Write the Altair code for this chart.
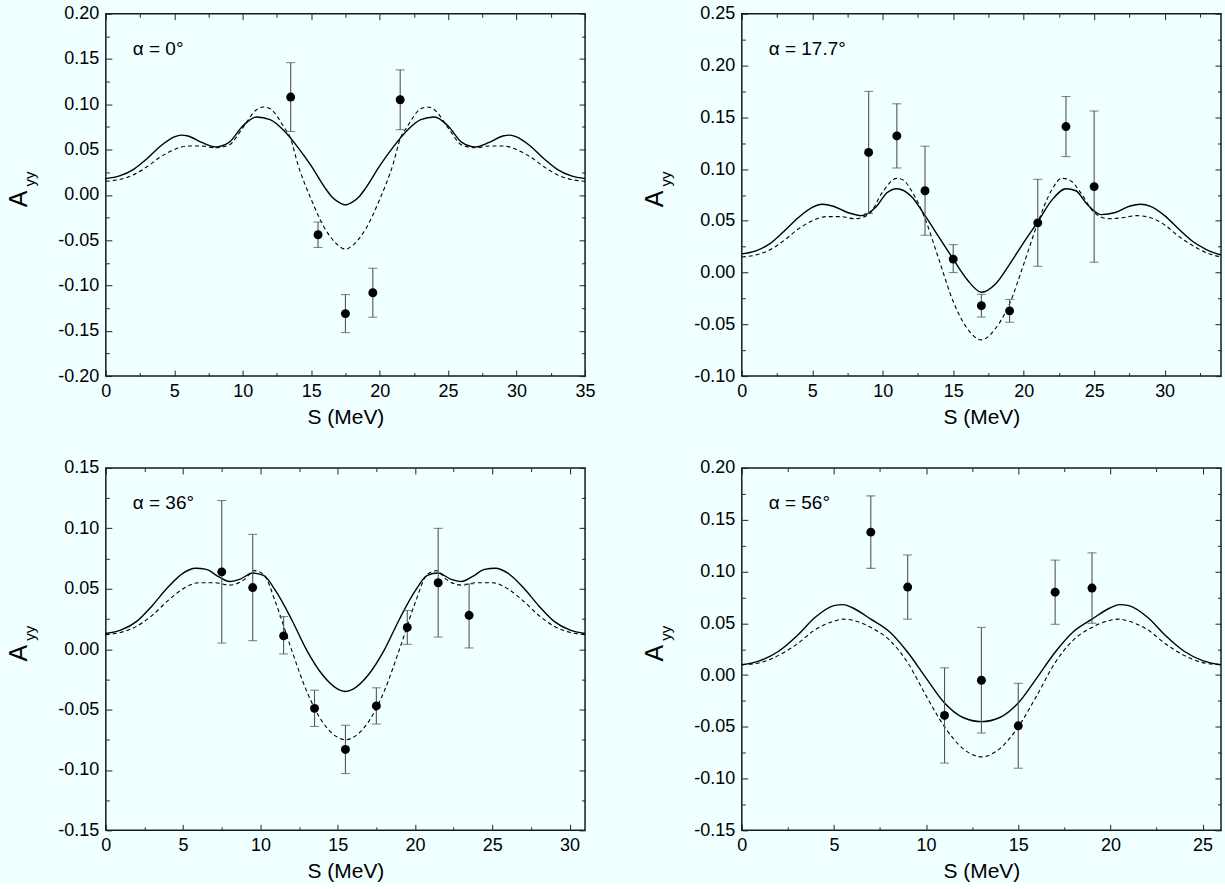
import altair as alt
import pandas as pd

FONT = "Liberation Sans"
BG = "#f0ffff"
W, H = 480, 363

# ---------------- Panel 1 : alpha = 0 deg ----------------
p1_label = "α = 0°"
p1_xdom = [0, 35]
p1_ydom = [-0.20, 0.20]
p1_xmaj = [0, 5, 10, 15, 20, 25, 30, 35]
p1_xmin = [2.5, 7.5, 12.5, 17.5, 22.5, 27.5, 32.5]
p1_ymaj = [-0.20, -0.15, -0.10, -0.05, 0.00, 0.05, 0.10, 0.15, 0.20]
p1_ymin = [-0.175, -0.125, -0.075, -0.025, 0.025, 0.075, 0.125, 0.175]
p1_sol_s = [0, 1, 2, 3, 4, 5, 5.5, 6, 7, 8, 9, 10, 11, 12, 13, 14, 15, 16, 16.5, 17, 17.5,
            18, 18.5, 19, 20, 21, 22, 23, 24, 25, 26, 27, 28, 29, 29.5, 30, 31, 32, 33, 34, 35]
p1_sol_v = [0.018, 0.021, 0.028, 0.040, 0.054, 0.064, 0.066, 0.065, 0.058, 0.053, 0.058, 0.076, 0.086,
            0.083, 0.071, 0.053, 0.032, 0.008, -0.002, -0.008, -0.011, -0.008, -0.002, 0.008, 0.032,
            0.053, 0.071, 0.083, 0.086, 0.076, 0.058, 0.053, 0.058, 0.065, 0.066, 0.064, 0.054, 0.040,
            0.028, 0.021, 0.018]
p1_das_s = [0, 1, 2, 3, 4, 5, 6, 7, 8, 9, 10, 11, 11.5, 12, 13, 13.5, 14, 15, 16, 17, 17.5, 18,
            19, 20, 21, 21.5, 22, 23, 23.5, 24, 25, 26, 27, 28, 29, 30, 31, 32, 33, 34, 35]
p1_das_v = [0.015, 0.017, 0.022, 0.031, 0.042, 0.050, 0.054, 0.054, 0.052, 0.055, 0.074, 0.094, 0.097,
            0.095, 0.075, 0.062, 0.035, -0.005, -0.037, -0.056, -0.060, -0.056, -0.037, -0.005, 0.035,
            0.062, 0.075, 0.095, 0.097, 0.094, 0.074, 0.055, 0.052, 0.054, 0.054, 0.050, 0.042, 0.031,
            0.022, 0.017, 0.015]
p1_pt_s = [13.5, 15.5, 17.5, 19.5, 21.5]
p1_pt_v = [0.108, -0.044, -0.131, -0.108, 0.105]
p1_pt_hi = [0.146, -0.030, -0.110, -0.081, 0.138]
p1_pt_lo = [0.070, -0.058, -0.152, -0.135, 0.072]

# ---------------- Panel 2 : alpha = 17.7 deg ----------------
p2_label = "α = 17.7°"
p2_xdom = [0, 34]
p2_ydom = [-0.10, 0.25]
p2_xmaj = [0, 5, 10, 15, 20, 25, 30]
p2_xmin = [2.5, 7.5, 12.5, 17.5, 22.5, 27.5, 32.5]
p2_ymaj = [-0.10, -0.05, 0.00, 0.05, 0.10, 0.15, 0.20, 0.25]
p2_ymin = [-0.075, -0.025, 0.025, 0.075, 0.125, 0.175, 0.225]
p2_sol_s = [0, 1, 2, 3, 4, 5, 5.7, 6.5, 7.5, 8.5, 9.5, 10.3, 11, 12, 13, 14, 15, 16, 17, 18, 19,
            20, 21, 22, 23, 23.7, 24.5, 25.5, 26.5, 27.5, 28.3, 29, 30, 31, 32, 33, 34]
p2_sol_v = [0.018, 0.021, 0.028, 0.040, 0.053, 0.063, 0.066, 0.064, 0.058, 0.055, 0.063, 0.077, 0.081,
            0.074, 0.055, 0.034, 0.013, -0.007, -0.019, -0.011, 0.008, 0.029, 0.049, 0.070, 0.081,
            0.079, 0.066, 0.056, 0.058, 0.064, 0.066, 0.064, 0.055, 0.042, 0.030, 0.022, 0.017]
p2_das_s = [0, 1, 2, 3, 4, 5, 6, 7, 8, 9, 10, 11, 11.5, 12, 13, 14, 15, 16, 17, 18, 19, 20, 21,
            22, 22.7, 23.3, 24, 25, 26, 27, 28, 29, 30, 31, 32, 33, 34]
p2_das_v = [0.015, 0.017, 0.022, 0.031, 0.042, 0.050, 0.054, 0.054, 0.052, 0.056, 0.078, 0.091, 0.089,
            0.080, 0.052, 0.012, -0.028, -0.054, -0.065, -0.054, -0.030, 0.008, 0.048, 0.080, 0.091,
            0.089, 0.078, 0.058, 0.052, 0.053, 0.055, 0.053, 0.046, 0.035, 0.026, 0.019, 0.015]
p2_pt_s = [9, 11, 13, 15, 17, 19, 21, 23, 25]
p2_pt_v = [0.116, 0.132, 0.079, 0.013, -0.032, -0.037, 0.048, 0.141, 0.083]
p2_pt_hi = [0.175, 0.163, 0.122, 0.027, -0.021, -0.026, 0.090, 0.170, 0.156]
p2_pt_lo = [0.057, 0.101, 0.036, 0.000, -0.043, -0.048, 0.006, 0.112, 0.010]

# ---------------- Panel 3 : alpha = 36 deg ----------------
p3_label = "α = 36°"
p3_xdom = [0, 31]
p3_ydom = [-0.15, 0.15]
p3_xmaj = [0, 5, 10, 15, 20, 25, 30]
p3_xmin = [2.5, 7.5, 12.5, 17.5, 22.5, 27.5]
p3_ymaj = [-0.15, -0.10, -0.05, 0.00, 0.05, 0.10, 0.15]
p3_ymin = [-0.125, -0.075, -0.025, 0.025, 0.075, 0.125]
p3_sol_s = [0, 1, 2, 3, 4, 5, 5.8, 6.5, 7.3, 8, 8.7, 9.5, 10.2, 11, 12, 13, 14, 15, 15.5, 16, 17,
            18, 19, 20, 20.8, 21.5, 22.3, 23, 23.7, 24.5, 25.2, 26, 27, 28, 29, 30, 31]
p3_sol_v = [0.013, 0.016, 0.023, 0.036, 0.051, 0.063, 0.067, 0.066, 0.060, 0.056, 0.058, 0.063, 0.061,
            0.048, 0.025, -0.001, -0.021, -0.033, -0.035, -0.033, -0.021, -0.001, 0.025, 0.048, 0.061,
            0.063, 0.058, 0.056, 0.060, 0.066, 0.067, 0.063, 0.051, 0.036, 0.023, 0.016, 0.013]
p3_das_s = [0, 1, 2, 3, 4, 5, 6, 7, 8, 9, 9.6, 10.2, 11, 12, 13, 14, 15, 15.5, 16, 17, 18, 19, 20,
            20.8, 21.4, 22, 23, 24, 25, 26, 27, 28, 29, 30, 31]
p3_das_v = [0.012, 0.014, 0.019, 0.028, 0.040, 0.050, 0.055, 0.055, 0.053, 0.058, 0.065, 0.062, 0.038,
            0.000, -0.035, -0.060, -0.073, -0.075, -0.073, -0.060, -0.035, 0.000, 0.038, 0.062, 0.065,
            0.058, 0.053, 0.055, 0.055, 0.050, 0.040, 0.028, 0.019, 0.014, 0.012]
p3_pt_s = [7.5, 9.5, 11.5, 13.5, 15.5, 17.5, 19.5, 21.5, 23.5]
p3_pt_v = [0.064, 0.051, 0.011, -0.049, -0.083, -0.047, 0.018, 0.055, 0.028]
p3_pt_hi = [0.123, 0.095, 0.027, -0.034, -0.063, -0.032, 0.032, 0.100, 0.054]
p3_pt_lo = [0.005, 0.007, -0.004, -0.064, -0.103, -0.062, 0.004, 0.010, 0.001]

# ---------------- Panel 4 : alpha = 56 deg ----------------
p4_label = "α = 56°"
p4_xdom = [0, 26]
p4_ydom = [-0.15, 0.20]
p4_xmaj = [0, 5, 10, 15, 20, 25]
p4_xmin = [2.5, 7.5, 12.5, 17.5, 22.5]
p4_ymaj = [-0.15, -0.10, -0.05, 0.00, 0.05, 0.10, 0.15, 0.20]
p4_ymin = [-0.125, -0.075, -0.025, 0.025, 0.075, 0.125, 0.175]
p4_sol_s = [0, 1, 2, 3, 4, 5, 5.5, 6, 7, 8, 9, 10, 11, 12, 13, 14, 15, 16, 17, 18, 19, 20, 20.5,
            21, 22, 23, 24, 25, 26]
p4_sol_v = [0.010, 0.014, 0.023, 0.038, 0.056, 0.067, 0.068, 0.065, 0.054, 0.042, 0.022, -0.003,
            -0.027, -0.041, -0.045, -0.041, -0.027, -0.003, 0.022, 0.042, 0.054, 0.065, 0.068, 0.067,
            0.056, 0.038, 0.023, 0.014, 0.010]
p4_das_s = [0, 1, 2, 3, 4, 5, 5.5, 6, 7, 8, 9, 10, 11, 12, 13, 14, 15, 16, 17, 18, 19, 20, 20.5,
            21, 22, 23, 24, 25, 26]
p4_das_v = [0.010, 0.012, 0.019, 0.030, 0.044, 0.052, 0.054, 0.053, 0.046, 0.034, 0.012, -0.020,
            -0.050, -0.071, -0.079, -0.071, -0.050, -0.020, 0.012, 0.034, 0.046, 0.053, 0.054, 0.052,
            0.044, 0.030, 0.019, 0.012, 0.010]
p4_pt_s = [7, 9, 11, 13, 15, 17, 19]
p4_pt_v = [0.138, 0.085, -0.039, -0.005, -0.049, 0.080, 0.084]
p4_pt_hi = [0.173, 0.116, 0.007, 0.046, -0.008, 0.111, 0.118]
p4_pt_lo = [0.103, 0.054, -0.085, -0.056, -0.090, 0.049, 0.050]

Y_LABEL_EXPR = "replace(format(datum.value, '.2f'), '\u2212', '-')"


def tick_axis(orient, vals, size):
    return alt.Axis(orient=orient, values=vals, labels=False, domain=False, ticks=True,
                    tickSize=size, offset=-size, title=None, grid=False)


def make_panel(label, xdom, ydom, xmaj, xmin, ymaj, ymin,
               sol_s, sol_v, das_s, das_v, ps, pv, phi, plo):
    xs = alt.Scale(domain=xdom, nice=False, zero=False)
    ys = alt.Scale(domain=ydom, nice=False, zero=False)
    ax_x_lab = alt.Axis(orient="bottom", values=xmaj, format="d", ticks=False, tickSize=0,
                        domain=False, labelPadding=6, title="S (MeV)", titlePadding=6,
                        grid=False, labelFlush=False, labelOverlap=False)
    ax_y_lab = alt.Axis(orient="left", values=ymaj, labelExpr=Y_LABEL_EXPR, ticks=False,
                        tickSize=0, domain=False, labelPadding=7, title=None, grid=False,
                        labelOverlap=False)

    solid = alt.Chart(pd.DataFrame({"s": sol_s, "v": sol_v})).mark_line(
        color="black", strokeWidth=1.4, interpolate="monotone"
    ).encode(x=alt.X("s:Q", scale=xs, axis=ax_x_lab),
             y=alt.Y("v:Q", scale=ys, axis=ax_y_lab))

    dashed = alt.Chart(pd.DataFrame({"s": das_s, "v": das_v})).mark_line(
        color="black", strokeWidth=1.1, strokeDash=[4, 3], interpolate="monotone"
    ).encode(x=alt.X("s:Q", scale=xs, axis=tick_axis("bottom", xmaj, 6)),
             y=alt.Y("v:Q", scale=ys, axis=tick_axis("left", ymaj, 6)))

    pts = pd.DataFrame({"s": ps, "v": pv, "hi": phi, "lo": plo})
    bars = alt.Chart(pts).mark_rule(color="#555555", strokeWidth=1.1).encode(
        x=alt.X("s:Q", scale=xs, axis=tick_axis("bottom", xmin, 3.5)),
        y=alt.Y("lo:Q", scale=ys, axis=tick_axis("left", ymin, 3.5)),
        y2="hi:Q")

    caps_df = pd.DataFrame({"s": list(ps) + list(ps), "c": list(phi) + list(plo)})
    caps = alt.Chart(caps_df).mark_tick(
        orient="horizontal", size=9, thickness=1.1, color="#555555"
    ).encode(x=alt.X("s:Q", scale=xs, axis=tick_axis("top", xmaj, 6)),
             y=alt.Y("c:Q", scale=ys, axis=tick_axis("right", ymaj, 6)))

    dots = alt.Chart(pts).mark_circle(size=80, color="black", opacity=1).encode(
        x=alt.X("s:Q", scale=xs, axis=tick_axis("top", xmin, 3.5)),
        y=alt.Y("v:Q", scale=ys, axis=tick_axis("right", ymin, 3.5)))

    lab = alt.Chart(pd.DataFrame({"t": [label]})).mark_text(
        align="left", baseline="middle", fontSize=19, font=FONT, color="black"
    ).encode(x=alt.value(27), y=alt.value(35), text="t:N")

    a_txt = alt.Chart(pd.DataFrame({"t": ["A"]})).mark_text(
        angle=270, align="center", baseline="alphabetic", fontSize=25, font=FONT, color="black"
    ).encode(x=alt.value(-79), y=alt.value(H / 2 + 4), text="t:N")

    yy_txt = alt.Chart(pd.DataFrame({"t": ["yy"]})).mark_text(
        angle=270, align="center", baseline="alphabetic", fontSize=15, font=FONT, color="black"
    ).encode(x=alt.value(-71), y=alt.value(H / 2 - 16), text="t:N")

    return alt.layer(solid, dashed, bars, caps, dots, lab, a_txt, yy_txt).resolve_axis(
        x="independent", y="independent").properties(width=W, height=H)


p1 = make_panel(p1_label, p1_xdom, p1_ydom, p1_xmaj, p1_xmin, p1_ymaj, p1_ymin,
                p1_sol_s, p1_sol_v, p1_das_s, p1_das_v, p1_pt_s, p1_pt_v, p1_pt_hi, p1_pt_lo)
p2 = make_panel(p2_label, p2_xdom, p2_ydom, p2_xmaj, p2_xmin, p2_ymaj, p2_ymin,
                p2_sol_s, p2_sol_v, p2_das_s, p2_das_v, p2_pt_s, p2_pt_v, p2_pt_hi, p2_pt_lo)
p3 = make_panel(p3_label, p3_xdom, p3_ydom, p3_xmaj, p3_xmin, p3_ymaj, p3_ymin,
                p3_sol_s, p3_sol_v, p3_das_s, p3_das_v, p3_pt_s, p3_pt_v, p3_pt_hi, p3_pt_lo)
p4 = make_panel(p4_label, p4_xdom, p4_ydom, p4_xmaj, p4_xmin, p4_ymaj, p4_ymin,
                p4_sol_s, p4_sol_v, p4_das_s, p4_das_v, p4_pt_s, p4_pt_v, p4_pt_hi, p4_pt_lo)

chart = alt.concat(p1, p2, p3, p4, columns=2, spacing={"row": 30, "column": 46}).properties(
    padding={"left": 6, "top": 3, "right": 0, "bottom": 0},
    background=BG,
).configure_view(
    stroke="#1a1a1a", strokeWidth=1.5
).configure_axis(
    labelFont=FONT, labelFontSize=18, labelColor="black",
    titleFont=FONT, titleFontSize=21, titleColor="black", titleFontWeight="normal",
    tickColor="#222222", tickWidth=1, grid=False
)

chart.save("out.html", embed_options={"renderer": "svg", "actions": False})
